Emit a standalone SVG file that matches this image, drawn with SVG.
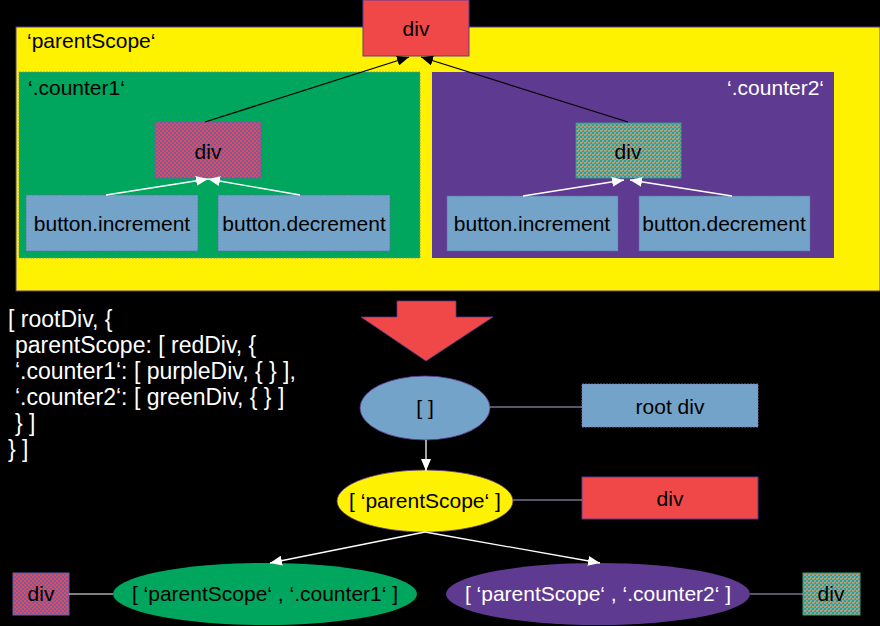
<svg xmlns="http://www.w3.org/2000/svg" width="880" height="626" viewBox="0 0 880 626">
<defs>
<style>
text{font-family:"Liberation Sans",Arial,sans-serif;font-size:21px}
.c{text-anchor:middle}
.w{fill:#ffffff}
.k{fill:#000000}
.code{font-size:23px;fill:#ffffff}
.edge{stroke:#b4a7d6;stroke-width:1.2;fill:none}
.blk{stroke:#000;stroke-width:1.2;fill:none;marker-end:url(#ab)}
.wht{stroke:#ffffff;stroke-width:1.3;fill:none;marker-end:url(#aw)}
.btn{fill:#73a3c8;stroke:#5f6fa0;stroke-width:0.8;stroke-dasharray:2 1}
</style>
<marker id="ab" viewBox="0 0 12 10" refX="12" refY="5" markerWidth="12" markerHeight="10" markerUnits="userSpaceOnUse" orient="auto"><path d="M0,0 L12,5 L0,10 Z" fill="#000"/></marker>
<marker id="aw" viewBox="0 0 12 10" refX="12" refY="5" markerWidth="12" markerHeight="10" markerUnits="userSpaceOnUse" orient="auto"><path d="M0,0 L12,5 L0,10 Z" fill="#fff"/></marker>
<pattern id="pr" width="4" height="4" patternUnits="userSpaceOnUse"><rect width="4" height="4" fill="#6a5fb0"/><rect width="2" height="2" fill="#f04848"/><rect x="2" y="2" width="2" height="2" fill="#f04848"/></pattern>
<pattern id="pt" width="4" height="4" patternUnits="userSpaceOnUse"><rect width="4" height="4" fill="#2aa874"/><rect x="2" y="0" width="2" height="2" fill="#7aa6c8"/><rect x="0" y="2" width="2" height="2" fill="#8aa8b0"/><rect x="2" y="2" width="1" height="1" fill="#c0a050"/></pattern>
</defs>
<rect width="880" height="626" fill="#000"/>

<g id="parentScope">
<rect x="16" y="27" width="864" height="264" fill="#fff200" stroke="#5f3a91" stroke-width="1"/>
<text x="27" y="48" class="k">‘parentScope‘</text>
</g>

<g id="counter1">
<rect x="19" y="72" width="401" height="186" fill="#00a65d" stroke="#7a9a80" stroke-width="0.8" stroke-dasharray="2 1"/>
<text x="28" y="95" class="k">‘.counter1‘</text>
</g>

<g id="counter2">
<rect x="432" y="72" width="402" height="186" fill="#5f3a91"/>
<text x="824" y="95" class="w" text-anchor="end">‘.counter2‘</text>
</g>

<g id="topDiv">
<rect x="363" y="0" width="106" height="56" fill="#f04848" stroke="#5f3a91" stroke-width="1"/>
<text x="416" y="36" class="c k">div</text>
</g>

<g id="div1">
<rect x="155" y="122" width="106" height="56" fill="url(#pr)" stroke="#6a5fb0" stroke-width="0.8"/>
<text x="208" y="159" class="c k">div</text>
</g>

<g id="inc1">
<rect x="26" y="195" width="172" height="56" class="btn"/>
<text x="112" y="231" class="c k">button.increment</text>
</g>
<g id="dec1">
<rect x="218" y="195" width="172" height="56" class="btn"/>
<text x="304" y="231" class="c k">button.decrement</text>
</g>

<g id="div2">
<rect x="576" y="123" width="105" height="55" fill="url(#pt)" stroke="#3aa080" stroke-width="0.8"/>
<text x="628" y="159" class="c k">div</text>
</g>

<g id="inc2">
<rect x="447" y="196" width="171" height="55" class="btn"/>
<text x="532" y="231" class="c k">button.increment</text>
</g>
<g id="dec2">
<rect x="639" y="196" width="171" height="55" class="btn"/>
<text x="724" y="231" class="c k">button.decrement</text>
</g>

<g id="code">
<text x="8" y="327" class="code">[ rootDiv, {</text>
<text x="15" y="353" class="code">parentScope: [ redDiv, {</text>
<text x="15" y="379" class="code">‘.counter1‘: [ purpleDiv, { } ],</text>
<text x="15" y="405" class="code">‘.counter2‘: [ greenDiv, { } ]</text>
<text x="15" y="431" class="code">} ]</text>
<text x="8" y="457" class="code">} ]</text>
</g>

<g id="bigArrow">
<polygon points="397,301 456,301 456,317 493,317 426,361 361,317 397,317" fill="#f04848" stroke="#5f3a91" stroke-width="0.8"/>
</g>

<g id="rootNode">
<ellipse cx="425" cy="408" rx="65" ry="32" fill="#73a3c8" stroke="#5f3a91" stroke-width="0.8"/>
<text x="425" y="415" class="c k">[ ]</text>
</g>
<g id="rootDivRect">
<rect x="582" y="384" width="176" height="43" fill="#73a3c8" stroke="#8e7cc3" stroke-width="0.8" stroke-dasharray="2 1"/>
<text x="670" y="414" class="c k">root div</text>
</g>

<g id="parentNode">
<ellipse cx="425" cy="501" rx="88" ry="31" fill="#fff200" stroke="#5f3a91" stroke-width="0.8"/>
<text x="425" y="508" class="c k">[ ‘parentScope‘ ]</text>
</g>
<g id="redDivRect">
<rect x="582" y="477" width="176" height="42" fill="#f04848" stroke="#5f3a91" stroke-width="1"/>
<text x="670" y="506" class="c k">div</text>
</g>

<g id="counter1Node">
<ellipse cx="265" cy="594" rx="152" ry="31" fill="#00a65d"/>
<text x="265" y="601" class="c k">[ ‘parentScope‘ , ‘.counter1‘ ]</text>
</g>
<g id="purpleDivRect">
<rect x="13" y="573" width="56" height="42" fill="url(#pr)" stroke="#6a5fb0" stroke-width="1"/>
<text x="41" y="601" class="c k">div</text>
</g>

<g id="counter2Node">
<ellipse cx="598" cy="594" rx="152" ry="31" fill="#5f3a91"/>
<text x="598" y="601" class="c w">[ ‘parentScope‘ , ‘.counter2‘ ]</text>
</g>
<g id="greenDivRect">
<rect x="803" y="573" width="57" height="42" fill="url(#pt)" stroke="#3aa080" stroke-width="1"/>
<text x="831" y="601" class="c k">div</text>
</g>

<g id="connectors">
<line x1="205" y1="122" x2="409" y2="57" class="blk"/>
<line x1="628" y1="122" x2="421" y2="57" class="blk"/>
<line x1="106" y1="195" x2="208" y2="179" class="wht"/>
<line x1="300" y1="195" x2="208" y2="179" class="wht"/>
<line x1="523" y1="196" x2="624" y2="180" class="wht"/>
<line x1="732" y1="196" x2="630" y2="180" class="wht"/>
<line x1="490" y1="407" x2="582" y2="407" class="edge"/>
<line x1="426" y1="440" x2="426" y2="471" class="wht"/>
<line x1="513" y1="500" x2="582" y2="500" class="edge"/>
<line x1="425" y1="532" x2="270" y2="563" class="wht"/>
<line x1="425" y1="532" x2="600" y2="563" class="wht"/>
<line x1="69" y1="594" x2="113" y2="594" stroke="#ffffff" stroke-width="1"/>
<line x1="750" y1="594" x2="803" y2="594" class="edge"/>
</g>
</svg>
